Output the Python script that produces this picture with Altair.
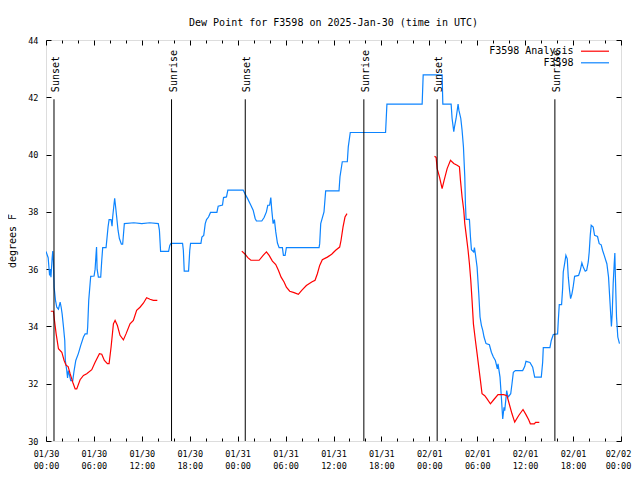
import altair as alt
import pandas as pd

T0 = 1738195200000  # 2025-01-30T00:00:00Z in ms
HOUR = 3600000

# ---- observations (F3598), hours after 01/30 00:00 UTC ----
obs_hours = [0.0, 0.27, 0.45, 0.55, 0.62, 0.77, 0.85, 0.93, 1.02, 1.19, 1.35, 1.56, 1.77, 1.90, 2.02,
             2.19, 2.35, 2.42, 2.60, 2.70, 2.80, 2.94, 3.10, 3.35, 3.52, 3.73, 4.06, 4.35, 4.69, 4.90,
             5.15, 5.22, 5.35, 5.52, 5.60, 6.02, 6.15, 6.27, 6.33, 6.40, 6.56, 6.85, 6.98, 7.10, 7.52,
             7.60, 7.77, 7.90, 8.15, 8.27, 8.35, 8.48, 8.60, 8.72, 8.85, 9.02, 9.19, 9.44, 9.60, 9.81,
             11.0, 12.0, 13.0, 14.06, 14.20, 14.35, 15.35, 15.50, 15.65, 17.10, 17.20, 17.31, 17.85,
             18.00, 18.10, 19.40, 19.52, 19.75, 19.94, 20.10, 20.35, 20.60, 21.40, 21.56, 22.10, 22.23,
             22.60, 22.77, 24.69, 24.94, 25.23, 25.65, 25.94, 26.19, 26.35, 27.02, 27.31, 27.60, 27.77,
             28.00, 28.15, 28.27, 28.44, 28.60, 28.77, 28.98, 29.19, 29.60, 29.73, 29.94, 30.10, 34.19,
             34.27, 34.40, 34.81, 35.02, 36.69, 36.81, 37.10, 37.73, 37.85, 38.10, 42.52, 42.69, 47.10,
             47.23, 49.60, 49.69, 50.73, 50.85, 51.06, 51.15, 51.35, 51.60, 51.70, 51.94, 52.10, 52.27,
             52.44, 52.52, 52.60, 53.02, 53.15, 53.27, 53.56, 53.65, 53.77, 53.98, 54.19, 54.35, 54.52,
             54.69, 54.85, 55.10, 55.52, 55.77, 56.02, 56.27, 56.52, 56.60, 56.85, 57.02, 57.19, 57.35,
             57.44, 57.69, 57.80, 57.85, 58.19, 58.35, 58.52, 58.77, 59.69, 59.94, 60.10, 60.60, 60.94,
             61.19, 62.02, 62.19, 62.27, 63.10, 63.27, 63.52, 64.06, 64.15, 64.27, 64.56, 64.69, 64.77,
             64.94, 65.10, 65.27, 65.40, 65.56, 65.69, 65.85, 66.00, 66.19, 66.69, 66.90, 67.10, 67.27,
             67.52, 67.70, 67.90, 68.02, 68.15, 68.27, 68.52, 68.69, 69.06, 69.27, 69.52, 69.69, 69.90,
             70.10, 70.23, 70.44, 70.56, 70.73, 70.80, 70.90, 71.02, 71.15, 71.23, 71.30, 71.44, 71.60,
             71.81]
obs_values = [36.62, 36.40, 35.78, 36.00, 35.72, 36.40, 36.63, 36.25, 35.37, 34.91, 34.67, 34.60, 34.85,
              34.67, 34.44, 33.98, 33.51, 32.81, 32.46, 32.20, 32.46, 32.30, 32.11, 32.11, 32.46, 32.81,
              33.06, 33.34, 33.63, 33.74, 33.74, 33.98, 34.91, 35.49, 35.75, 35.76, 36.00, 36.54, 36.77,
              36.00, 35.72, 35.72, 36.30, 36.75, 36.75, 36.98, 37.47, 37.73, 37.73, 37.50, 37.82, 38.17,
              38.47, 38.17, 37.82, 37.36, 37.07, 36.87, 36.87, 37.59, 37.62, 37.59, 37.62, 37.59, 37.36,
              36.62, 36.62, 36.83, 36.90, 36.90, 36.65, 35.93, 35.93, 36.65, 36.90, 36.90, 37.12, 37.18,
              37.59, 37.73, 37.82, 37.98, 37.98, 38.20, 38.24, 38.50, 38.52, 38.76, 38.76, 38.62, 38.47,
              38.23, 38.06, 37.77, 37.68, 37.68, 37.80, 38.00, 38.23, 38.23, 38.50, 38.06, 37.59, 37.73,
              37.30, 36.91, 36.75, 36.75, 36.48, 36.48, 36.75, 36.75, 36.89, 37.59, 38.00, 38.73, 38.73,
              39.22, 39.75, 39.75, 40.27, 40.77, 40.77, 41.76, 41.76, 42.78, 42.78, 41.76, 41.76, 41.26,
              40.80, 40.97, 41.26, 41.76, 41.55, 41.26, 40.85, 40.27, 39.22, 38.29, 37.74, 37.74, 37.12,
              36.68, 36.60, 36.75, 36.52, 36.07, 35.14, 34.33, 34.04, 33.86, 33.63, 33.40, 33.36, 33.10,
              32.93, 32.81, 32.52, 32.69, 32.23, 31.53, 30.77, 31.18, 31.06, 31.76, 31.60, 31.53, 31.65,
              32.00, 32.40, 32.46, 32.46, 32.60, 32.78, 32.74, 32.58, 32.23, 32.23, 32.75, 33.26, 33.26,
              33.51, 33.72, 33.74, 34.21, 34.76, 34.76, 35.32, 35.90, 36.19, 36.48, 36.36, 35.72, 35.26,
              34.97, 35.13, 35.36, 35.75, 35.78, 35.96, 36.22, 36.07, 35.93, 35.96, 36.25, 36.60, 37.18,
              37.53, 37.47, 37.18, 37.14, 36.89, 36.85, 36.66, 36.48, 36.30, 36.19, 35.72, 35.14, 34.33,
              34.00, 34.44, 35.49, 36.19, 36.56, 35.72, 34.33, 33.63, 33.40]

# ---- analysis (F3598 Analysis), three daily runs ----
ana_hours = [0.60, 0.94, 1.06, 1.27, 1.56, 1.98, 2.27, 2.52, 2.77, 3.02, 3.35, 3.65, 3.85, 4.27, 4.69,
             5.10, 5.73, 6.15, 6.69, 6.98, 7.31, 7.69, 7.90, 8.15, 8.44, 8.65, 8.94, 9.27, 9.69, 10.02,
             10.52, 10.94, 11.35, 11.77, 12.19, 12.60, 13.02, 13.44, 13.94,
             24.52, 24.94, 25.27, 25.65, 26.69, 27.19, 27.60, 27.94, 28.35, 28.77, 29.10, 29.44, 29.81,
             30.10, 30.52, 31.06, 31.60, 32.02, 32.60, 33.27, 33.69, 33.98, 34.27, 34.60, 35.23, 35.77,
             36.27, 36.77, 36.94, 37.19, 37.44, 37.69,
             48.65, 48.85, 48.98, 49.27, 49.60, 49.85, 50.23, 50.65, 51.06, 51.48, 51.77, 51.90, 52.10,
             52.31, 52.44, 52.65, 52.85, 53.02, 53.19, 53.35, 53.52, 53.77, 53.98, 54.19, 54.40, 54.60,
             54.94, 55.23, 55.65, 56.06, 56.60, 57.31, 57.73, 58.06, 58.35, 58.69, 59.19, 59.73, 60.10,
             60.44, 60.65, 61.15, 61.30, 61.77]
ana_values = [34.53, 34.53, 34.21, 33.74, 33.22, 33.10, 32.81, 32.64, 32.60, 32.35, 32.05, 31.82, 31.82,
              32.14, 32.29, 32.35, 32.49, 32.75, 33.05, 33.03, 32.81, 32.70, 32.70, 33.28, 34.09, 34.21,
              34.03, 33.69, 33.53, 33.74, 34.09, 34.21, 34.56, 34.67, 34.81, 35.00, 34.95, 34.91, 34.91,
              36.63, 36.52, 36.40, 36.31, 36.31, 36.48, 36.60, 36.48, 36.28, 36.16, 35.96, 35.72, 35.55,
              35.37, 35.23, 35.18, 35.12, 35.26, 35.43, 35.55, 35.61, 35.84, 36.13, 36.33, 36.42, 36.52,
              36.66, 36.77, 37.00, 37.47, 37.82, 37.94,
              39.94, 39.90, 39.51, 39.22, 38.81, 39.10, 39.51, 39.80, 39.69, 39.63, 39.57, 39.10, 38.52,
              38.06, 37.59, 37.12, 36.66, 36.19, 35.61, 34.91, 34.09, 33.51, 33.05, 32.58, 32.11, 31.65,
              31.58, 31.47, 31.30, 31.44, 31.62, 31.62, 31.58, 31.24, 30.95, 30.66, 30.89, 31.10, 30.92,
              30.74, 30.60, 30.60, 30.65, 30.65]
ana_run = [1] * 39 + [2] * 32 + [3] * 44

# ---- sunrise / sunset markers ----
sun_hours = [1.0, 15.72, 24.95, 39.8, 48.98, 63.72]
sun_labels = ["Sunset", "Sunrise", "Sunset", "Sunrise", "Sunset", "Sunrise"]

y_ticks = [30, 32, 34, 36, 38, 40, 42, 44]
ana_name, obs_name = "F3598 Analysis", "F3598"
ana_color, obs_color = "#ff0000", "#0c84ff"

FONT = "DejaVu Sans Mono"
W, H = 575, 401

obs = pd.DataFrame({"t": [T0 + h * HOUR for h in obs_hours], "v": obs_values, "series": obs_name})
ana = pd.DataFrame({"t": [T0 + h * HOUR for h in ana_hours], "v": ana_values,
                    "series": ana_name, "run": ana_run})
sun = pd.DataFrame({"t": [T0 + h * HOUR for h in sun_hours], "label": sun_labels,
                    "y0": 30.0, "y1": 41.93, "ty": 42.18})

T_END = T0 + 72 * HOUR
x_scale = alt.Scale(type="utc", domain=[T0, T_END], nice=False)
y_scale = alt.Scale(domain=[30, 44], nice=False, zero=False)

major_x = [T0 + h * HOUR for h in range(0, 73, 6)]
all_x = [T0 + h * HOUR for h in range(0, 73, 2)]
tick_cond = {"condition": {"test": "utchours(datum.value) % 6 === 0", "value": 5}, "value": 3}

common = dict(domain=False, grid=False, title=None)

x_label_axis = alt.Axis(orient="bottom", values=major_x,
                        labelExpr="[utcFormat(datum.value, '%m/%d'), utcFormat(datum.value, '%H:%M')]",
                        ticks=False, labelFont=FONT, labelFontSize=8.5, labelPadding=8,
                        labelLineHeight=12.5, labelColor="black", labelFlush=False,
                        labelOverlap=False, labelBaseline="top",
                        labelOffset={"condition": {"test": f"datum.value >= {T_END}", "value": -3},
                                     "value": 0},
                        **common)
x_tick_bottom = alt.Axis(orient="top", offset=-H, values=all_x, labels=False,
                         tickColor="black", tickSize=tick_cond, **common)
x_tick_top = alt.Axis(orient="bottom", offset=-H, values=all_x, labels=False,
                      tickColor="black", tickSize=tick_cond, **common)

y_label_axis = alt.Axis(orient="left", values=y_ticks, ticks=False, domain=False, grid=False,
                        labelFont=FONT, labelFontSize=8.5, labelPadding=8, labelColor="black",
                        title="degrees F", titleFont=FONT, titleFontSize=10, titleFontWeight="normal",
                        titleColor="black", titleX=-34, titleY=H / 2, titleAngle=270,
                        titleAlign="center", titleBaseline="middle")
y_tick_left = alt.Axis(orient="right", offset=-W, values=y_ticks, labels=False,
                       tickColor="black", tickSize=5, **common)
y_tick_right = alt.Axis(orient="left", offset=-W, values=y_ticks, labels=False,
                        tickColor="black", tickSize=5, **common)


def make_legend(y):
    return alt.Legend(orient="none", legendX=534, legendY=y, title=None, symbolType="stroke",
                      symbolSize=784, symbolStrokeWidth=1.2, labelFont=FONT, labelFontSize=10,
                      labelColor="black", labelAlign="right", labelOffset={"expr": "-36.5"},
                      padding=0, labelLimit=0)


blue = alt.Chart(obs).mark_line(strokeWidth=1.2, clip=True).encode(
    x=alt.X("t:T", scale=x_scale, axis=x_label_axis),
    y=alt.Y("v:Q", scale=y_scale, axis=y_label_axis),
    color=alt.Color("series:N", scale=alt.Scale(domain=[obs_name], range=[obs_color]),
                    legend=make_legend(7.8)),
)
red = alt.Chart(ana).mark_line(strokeWidth=1.2, clip=True).encode(
    x=alt.X("t:T", scale=x_scale, axis=x_tick_bottom),
    y=alt.Y("v:Q", scale=y_scale, axis=y_tick_left),
    color=alt.Color("series:N", scale=alt.Scale(domain=[ana_name], range=[ana_color]),
                    legend=make_legend(-3.8)),
    detail="run:N",
)
rules = alt.Chart(sun).mark_rule(color="black", strokeWidth=1).encode(
    x=alt.X("t:T", scale=x_scale, axis=x_tick_top),
    y=alt.Y("y0:Q", scale=y_scale, axis=y_tick_right),
    y2="y1:Q",
)
texts = alt.Chart(sun).mark_text(angle=270, align="left", baseline="middle", dy=2,
                                 font=FONT, fontSize=10, color="black").encode(
    x=alt.X("t:T", scale=x_scale, axis=None),
    y=alt.Y("ty:Q", scale=y_scale, axis=None),
    text="label:N",
)

chart = alt.layer(blue, red, rules, texts).resolve_axis(
    x="independent", y="independent"
).resolve_scale(color="independent").properties(
    width=W, height=H,
    title=alt.TitleParams("Dew Point for F3598 on 2025-Jan-30 (time in UTC)", font=FONT,
                          fontSize=10, fontWeight="normal", anchor="middle", frame="group",
                          offset=15, dy=17, color="black", baseline="bottom"),
    autosize=alt.AutoSizeParams(type="none"),
    padding={"left": 38, "top": 32, "right": 11, "bottom": 40},
).configure_view(stroke="black", strokeWidth=1).configure(background="white")

chart.save("out.html", embed_options={"renderer": "svg", "actions": False})
